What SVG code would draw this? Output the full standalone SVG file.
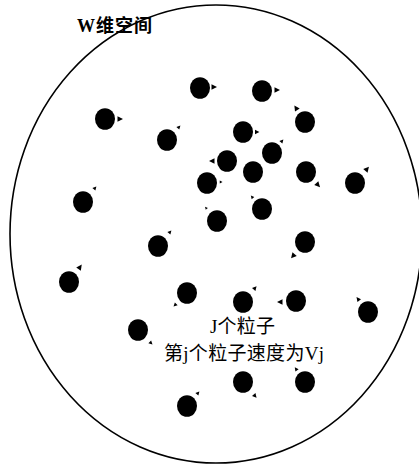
<svg xmlns="http://www.w3.org/2000/svg" xmlns:xlink="http://www.w3.org/1999/xlink" width="419" height="466" viewBox="0 0 419 466">
<style>
.p{fill:#000}
.t{font-family:"Liberation Serif","Noto Sans CJK SC",serif;fill:#000}
</style>
<defs>
<path id="ah" d="M3,0 L-2.5,-2.8 L-2.5,2.8 Z" fill="#000"/>
<ellipse id="dot" rx="10" ry="10.8" fill="#000"/>
</defs>
<rect width="419" height="466" fill="#fff"/>
<ellipse id="space" cx="216" cy="234" rx="206" ry="229" fill="none" stroke="#000" stroke-width="1.6"/>
<text class="t" x="77" y="32" font-size="18" font-weight="bold" textLength="75">W维空间</text>
<g id="connectors"></g>
<g id="p1"><use href="#dot" x="200" y="88"/><use href="#ah" transform="translate(214,87)"/></g>
<g id="p2"><use href="#dot" x="262" y="91"/><use href="#ah" transform="translate(277,90)"/></g>
<g id="p3"><use href="#dot" x="105" y="119"/><use href="#ah" transform="translate(120,119)"/></g>
<g id="p4"><use href="#dot" x="305" y="122"/><use href="#ah" transform="translate(296,108) rotate(-123)"/></g>
<g id="p5"><use href="#dot" x="167" y="140"/><use href="#ah" transform="translate(179,127) rotate(-47) scale(0.7)"/></g>
<g id="p6"><use href="#dot" x="243" y="132"/><use href="#ah" transform="translate(257,132) scale(0.8)"/></g>
<g id="p7"><use href="#dot" x="227" y="161"/><use href="#ah" transform="translate(212,161) rotate(180)"/></g>
<g id="p8"><use href="#dot" x="272" y="153"/><use href="#ah" transform="translate(282,141) rotate(-50) scale(0.7)"/></g>
<g id="p9"><use href="#dot" x="253" y="172"/></g>
<g id="p10"><use href="#dot" x="306" y="172"/><use href="#ah" transform="translate(318,185) rotate(47)"/></g>
<g id="p11"><use href="#dot" x="355" y="183"/><use href="#ah" transform="translate(367,169) rotate(-50)"/></g>
<g id="p12"><use href="#dot" x="207" y="183"/><use href="#ah" transform="translate(221,182) scale(0.5)"/></g>
<g id="p13"><use href="#dot" x="83" y="202"/><use href="#ah" transform="translate(95,188) rotate(-50) scale(0.7)"/></g>
<g id="p14"><use href="#dot" x="262" y="209"/><use href="#ah" transform="translate(252,197) rotate(-130) scale(0.6)"/></g>
<g id="p15"><use href="#dot" x="217" y="221"/><use href="#ah" transform="translate(206,208) rotate(-130) scale(0.5)"/></g>
<g id="p16"><use href="#dot" x="158" y="246"/><use href="#ah" transform="translate(170,232) rotate(-50) scale(0.7)"/></g>
<g id="p17"><use href="#dot" x="305" y="242"/><use href="#ah" transform="translate(293,256) rotate(130)"/></g>
<g id="p18"><use href="#dot" x="69" y="282"/><use href="#ah" transform="translate(80,267) rotate(-54)"/></g>
<g id="p19"><use href="#dot" x="187" y="293"/><use href="#ah" transform="translate(175,305) rotate(135) scale(0.7)"/></g>
<g id="p20"><use href="#dot" x="243" y="302"/><use href="#ah" transform="translate(255,288) rotate(-50) scale(0.8)"/></g>
<g id="p21"><use href="#dot" x="296" y="301"/><use href="#ah" transform="translate(280,302) rotate(180)"/></g>
<g id="p22"><use href="#dot" x="368" y="312"/><use href="#ah" transform="translate(358,299) rotate(-128) scale(0.8)"/></g>
<g id="p23"><use href="#dot" x="138" y="330"/><use href="#ah" transform="translate(151,343) rotate(45) scale(0.7)"/></g>
<g id="p24"><use href="#dot" x="243" y="382"/><use href="#ah" transform="translate(255,396) rotate(50) scale(0.8)"/></g>
<g id="p25"><use href="#dot" x="305" y="382"/><use href="#ah" transform="translate(296,369) rotate(-125) scale(0.7)"/></g>
<g id="p26"><use href="#dot" x="187" y="406"/><use href="#ah" transform="translate(198,393) rotate(-50) scale(0.7)"/></g>
<g id="label">
<text class="t" x="210" y="333" font-size="19" textLength="65">J个粒子</text>
<text class="t" x="164" y="360" font-size="19" textLength="160">第j个粒子速度为Vj</text>
</g>
</svg>
